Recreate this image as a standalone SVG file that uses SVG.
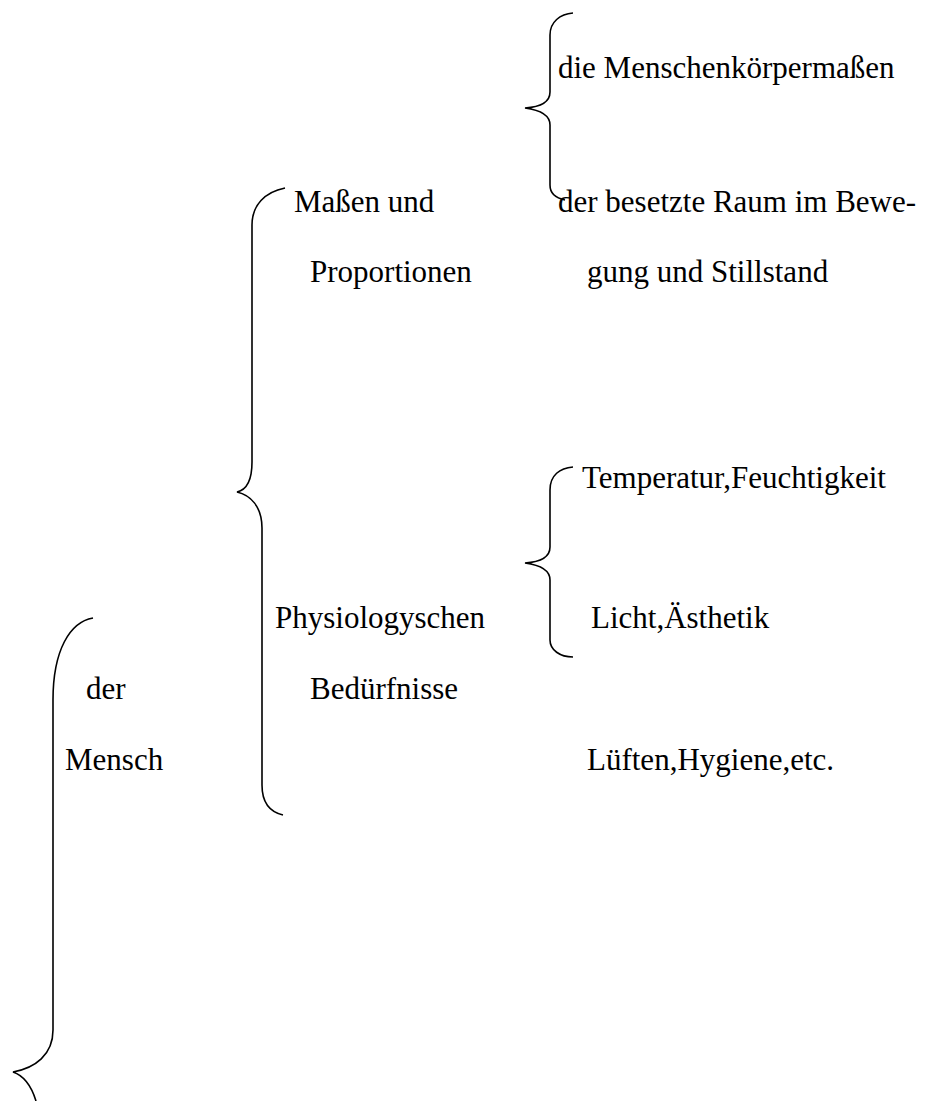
<svg xmlns="http://www.w3.org/2000/svg" width="934" height="1101" viewBox="0 0 934 1101">
<style>
text{font-family:"Liberation Serif","Times New Roman",serif;font-size:31px;fill:#000}
.br{fill:none;stroke:#000;stroke-width:1.6}
</style>
<rect width="934" height="1101" fill="#fff"/>
<g id="connectors">
<path class="br" d="M573,13 C560,14 550,22 550,35 L550,92 C550,102 540,107 525,108 C540,110 550,115 550,125 L550,185 C550,193 555,198 565,200"/>
<path class="br" d="M285,188 C265,192 252,205 252,225 L252,462 C252,482 246,490 237,492 C250,495 262,506 262,528 L262,785 C262,802 270,812 283,815"/>
<path class="br" d="M573,467 C560,468 550,475 550,490 L550,547 C550,557 540,562 525,563 C540,565 550,570 550,580 L550,640 C550,650 560,657 573,657"/>
<path class="br" d="M93,618 C70,622 53,650 53,700 L53,1030 C53,1055 35,1068 13,1072 C25,1076 32,1088 36,1101"/>
</g>
<g id="mensch"><text x="86" y="699">der</text><text x="65" y="770">Mensch</text></g>
<g id="massen"><text x="294" y="212">Maßen und</text><text x="310" y="282">Proportionen</text></g>
<g id="physio"><text x="275" y="628">Physiologyschen</text><text x="310" y="699">Bedürfnisse</text></g>
<g id="koerper"><text x="558" y="78">die Menschenkörpermaßen</text></g>
<g id="raum"><text x="558" y="212">der besetzte Raum im Bewe-</text><text x="587" y="282">gung und Stillstand</text></g>
<g id="temp"><text x="582" y="488">Temperatur,Feuchtigkeit</text></g>
<g id="licht"><text x="591" y="628">Licht,Ästhetik</text></g>
<g id="lueften"><text x="587" y="770">Lüften,Hygiene,etc.</text></g>
</svg>
